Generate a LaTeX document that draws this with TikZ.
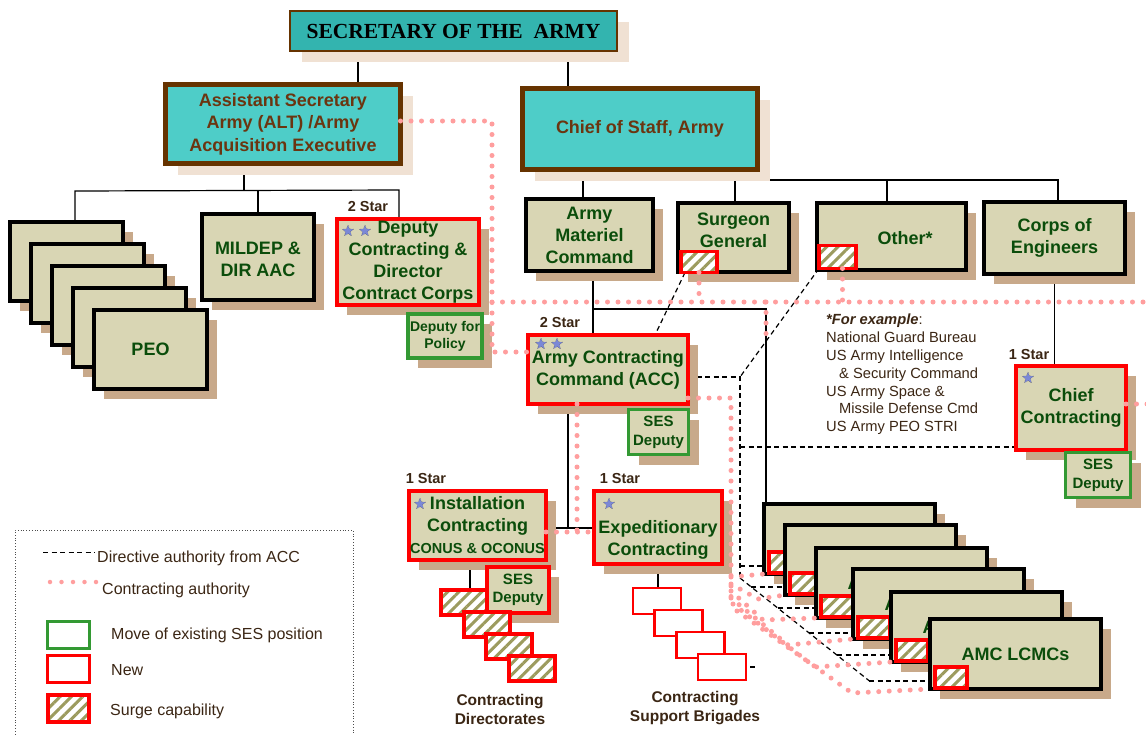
\documentclass[tikz,border=0pt]{standalone}
\usepackage{fontspec}
\setmainfont{Liberation Sans}
\newfontfamily\timesf{Liberation Serif}
\usetikzlibrary{shapes.geometric,shadows,patterns.meta,calc}
\definecolor{tealA}{HTML}{33B4AF}
\definecolor{tealB}{HTML}{4ECDC8}
\definecolor{brownB}{HTML}{663300}
\definecolor{brownT}{HTML}{6B3510}
\definecolor{beigeF}{HTML}{D9D6B4}
\definecolor{greenT}{HTML}{0B4D0B}
\definecolor{redB}{HTML}{FF0000}
\definecolor{greenB}{HTML}{339933}
\definecolor{shadowT}{HTML}{C8A98A}
\definecolor{shadowP}{HTML}{F0E1D3}
\definecolor{pinkD}{HTML}{FF9E9E}
\definecolor{oliveS}{HTML}{9C9B5E}
\definecolor{textB}{HTML}{3B2614}
\definecolor{starF}{HTML}{7B88D6}
\newcommand{\fsz}[2]{\fontsize{#1}{#2}\selectfont}
\pgfdeclarelayer{bg}
\pgfdeclarelayer{front}
\pgfsetlayers{bg,main,front}
\begin{document}
\begin{tikzpicture}[x=1pt,y=-1pt,
  conn/.style={draw=black,line width=1.2pt},
  dirl/.style={draw=black,line width=1.2pt,dash pattern=on 5pt off 3.5pt},
  ctr/.style={draw=pinkD,line width=5pt,line cap=round,dash pattern=on 0pt off 10.5pt},
  bx/.style={rectangle,inner sep=0pt,outer sep=0pt,align=center},
  tshad/.style={general shadow={fill=shadowT,shadow xshift=10pt,shadow yshift=-10pt}},
  pshad/.style={general shadow={fill=shadowP,shadow xshift=12pt,shadow yshift=-11pt}},
  secbox/.style={bx,pshad,fill=tealA,draw=brownB,line width=2pt},
  tealbox/.style={bx,pshad,fill=tealB,draw=brownB,line width=5pt,text=brownT,font=\bfseries\fsz{18}{22.5}},
  gbox/.style={bx,tshad,fill=beigeF,text=greenT,font=\bfseries\fsz{18}{22}},
  blk/.style={gbox,draw=black,line width=4pt},
  newb/.style={gbox,draw=redB,line width=4pt},
  sesb/.style={gbox,draw=greenB,line width=3.5pt,font=\bfseries\fsz{15}{19}},
  hatch/.style={bx,draw=redB,line width=3.5pt,preaction={fill=white},pattern={Lines[angle=45,distance=8pt,line width=3pt]},pattern color=oliveS},
  brig/.style={bx,draw=redB,line width=2.5pt,fill=white},
  starn/.style={star,star points=5,star point ratio=2.3,minimum size=12pt,inner sep=0pt,fill=starF,draw=black!70,line width=0.4pt,densely dotted},
  gtext/.style={bx,text=greenT,font=\bfseries\fsz{18}{22}},
  rank/.style={inner sep=0pt,text=textB,font=\bfseries\fsz{14.5}{17}},
  note/.style={text=textB,font=\fsz{16}{19},anchor=west,inner sep=0pt},
]
\useasboundingbox (0,0) rectangle (1146,734);

% ---------- top ----------
\node[secbox,minimum width=327pt,minimum height=40pt] (sec) at (453.5,31) {\timesf\bfseries\fsz{21.5}{24}SECRETARY OF THE\ \ ARMY};
\node[tealbox,minimum width=235pt,minimum height=79pt] (asa) at (283,124) {Assistant Secretary\\Army (ALT) /Army\\Acquisition Executive};
\node[tealbox,minimum width=235pt,minimum height=81pt] (cos) at (640,129) {Chief of Staff, Army};

% ---------- ASA side ----------
\node[blk,minimum width=113pt,minimum height=79pt] (peo1) at (66.5,261.5) {};
\node[blk,minimum width=113pt,minimum height=79pt] (peo2) at (87.5,283.5) {};
\node[blk,minimum width=113pt,minimum height=79pt] (peo3) at (108.5,305.5) {};
\node[blk,minimum width=113pt,minimum height=79pt] (peo4) at (129.5,327.5) {};
\node[blk,minimum width=113pt,minimum height=79pt] (peo5) at (150.5,349.5) {PEO};
\node[blk,minimum width=112pt,minimum height=86pt] (mil) at (258,257) {};
\node[gtext] at (258,259) {MILDEP \&\\DIR AAC};
\node[newb,minimum width=142pt,minimum height=86pt] (dep) at (408,262) {Deputy\\Contracting \&\\Director\\Contract Corps};
\node[starn] (ds1) at (348,231) {};
\node[starn] (ds2) at (365,231) {};
\node[rank] (dr) at (368,207) {2 Star};
\node[sesb,minimum width=74pt,minimum height=44pt,font=\bfseries\fsz{14}{17}] (pol) at (445,336) {Deputy for\\Policy};

% ---------- CoS side ----------
\node[blk,minimum width=127pt,minimum height=72pt] (amc) at (589.5,235) {Army\\Materiel\\Command};
\node[blk,minimum width=111pt,minimum height=69pt] (surg) at (733.5,237.5) {};
\node[gtext] at (733.5,230) {Surgeon\\General};
\node[hatch,minimum width=36pt,minimum height=21pt] (surgh) at (699,262) {};
\node[blk,minimum width=149pt,minimum height=67pt] (other) at (891.5,236.5) {};
\node[gtext] at (905,238) {Other*};
\node[hatch,minimum width=37pt,minimum height=23pt] (otherh) at (837.5,257) {};
\node[blk,minimum width=141pt,minimum height=72pt] (corps) at (1054.5,238) {Corps of\\Engineers};

\node[newb,minimum width=160pt,minimum height=69pt] (acc) at (608,369.5) {Army Contracting\\Command (ACC)};
\node[starn] (as1) at (541,344) {};
\node[starn] (as2) at (557,344) {};
\node[rank] (ar2) at (560,323) {2 Star};
\node[sesb,minimum width=60pt,minimum height=45pt] (sesacc) at (658.5,432) {SES\\Deputy};

\node[newb,minimum width=110pt,minimum height=84pt] (chief) at (1071,408) {Chief\\Contracting};
\node[starn] (cs1) at (1028,378) {};
\node[rank] (cr1) at (1029,355) {1 Star};
\node[sesb,minimum width=65pt,minimum height=45pt] (seschief) at (1098,475) {SES\\Deputy};

\node[newb,minimum width=137pt,minimum height=69pt] (inst) at (477.5,525.5) {Installation\\Contracting\\{\fsz{14.5}{22}CONUS \& OCONUS}};
\node[starn] (is1) at (420,504) {};
\node[rank] (ir1) at (426,479) {1 Star};
\node[newb,minimum width=62pt,minimum height=46pt,font=\bfseries\fsz{15}{17.5}] (sesinst) at (518,590) {SES\\Deputy};

\node[newb,minimum width=128pt,minimum height=73pt] (exp) at (658,527.5) {};
\node[gtext] at (658,540) {Expeditionary\\Contracting};
\node[starn] (es1) at (609,504) {};
\node[rank] (er1) at (620,479) {1 Star};

% Contracting directorates
\node[hatch,line width=4pt,minimum width=46pt,minimum height=25pt] (dir1) at (464,602.5) {};
\node[hatch,line width=4pt,minimum width=46pt,minimum height=25pt] (dir2) at (486.5,624.5) {};
\node[hatch,line width=4pt,minimum width=46pt,minimum height=25pt] (dir3) at (509,646.5) {};
\node[hatch,line width=4pt,minimum width=46pt,minimum height=25pt] (dir4) at (531.5,668.5) {};
\node[bx,text=textB,font=\bfseries\fsz{15.5}{19}] (dirl) at (500,709) {Contracting\\Directorates};

% Contracting support brigades
\node[brig,minimum width=48pt,minimum height=26pt] (brig1) at (657,601) {};
\node[brig,minimum width=48pt,minimum height=26pt] (brig2) at (678.7,623) {};
\node[brig,minimum width=48pt,minimum height=26pt] (brig3) at (700.4,645) {};
\node[brig,minimum width=48pt,minimum height=26pt] (brig4) at (722.1,667) {};
\node[bx,text=textB,font=\bfseries\fsz{15.5}{19}] (brigl) at (695,708) {Contracting\\Support Brigades};

% AMC LCMCs
\foreach \i/\l/\t in {1/762/502,2/783/523,3/814/546,4/851/567,5/889/590,6/928/617}{
  \node[blk,minimum width=171pt,minimum height=70pt] (lc\i) at (\l+87.5,\t+37) {AMC LCMCs};
  \node[hatch,minimum width=32pt,minimum height=21pt] (lch\i) at (\l+23,\t+60.5) {};
}

% example text
\node[anchor=north west,inner sep=0pt,align=left,text=textB,font=\fsz{14.7}{17.8}] (ex) at (826,314)
 {\textbf{\textit{*For example}}:\\National Guard Bureau\\US Army Intelligence\\\hspace*{13pt}\& Security Command\\US Army Space \&\\\hspace*{13pt}Missile Defense Cmd\\US Army PEO STRI};

% ---------- solid and dashed connectors (behind) ----------
\begin{pgfonlayer}{bg}
\fill[white] (0,0) rectangle (1146,734);
\coordinate (xa) at (358,0);
\coordinate (xb) at (568,0);
\coordinate (abus) at (244,191);
\coordinate (al) at (75,191);
\coordinate (am) at (258,191);
\coordinate (ar) at (399,190);
\coordinate (cbus) at (648,180);
\coordinate (cl) at (583,180);
\coordinate (c2) at (735,180);
\coordinate (c3) at (887,180);
\coordinate (cr) at (1058,180);
\coordinate (m1) at (593,309);
\coordinate (m2) at (766,309);
\coordinate (k1) at (568,528);
\coordinate (i1) at (470,0);
\draw[conn] (sec.south -| xa) -- (asa.north -| xa);
\draw[conn] (sec.south -| xb) -- (cos.north -| xb);
\draw[conn] (asa.south -| abus) -- (abus);
\draw[conn] (peo1.north -| al) -- (al) -- (ar) -- (dep.north -| ar);
\draw[conn] (am) -- (mil.north -| am);
\draw[conn] (cos.south -| cbus) -- (cbus);
\draw[conn] (amc.north -| cl) -- (cl) -- (cr) -- (corps.north -| cr);
\draw[conn] (c2) -- (surg.north -| c2);
\draw[conn] (c3) -- (other.north -| c3);
\draw[conn] (amc.south -| m1) -- (acc.north -| m1);
\draw[conn] (m1) -- (m2) -- (lc1.north -| m2);
\draw[conn] (acc.south -| k1) -- (k1);
\draw[conn] (inst.east |- k1) -- (exp.west |- k1);
\draw[conn] (inst.south -| i1) -- (dir1.north -| i1);
\draw[conn] (exp.south) -- (exp.south |- brig1.north);
\draw[conn] (corps.south) -- (corps.south |- chief.north);

% directive authority
\coordinate (dj) at (740,377);
\coordinate (dk) at (740,578);
\coordinate (dc) at (740,447);
\coordinate (d1) at (740,566);
\coordinate (dend) at (872,683);
\coordinate (d2) at (751,587);
\coordinate (d3) at (778,608);
\coordinate (d4) at (809,633);
\coordinate (d5) at (837,655);
\coordinate (d6) at (869,681);
\draw[dirl] ([xshift=-14pt]surgh.south) -- ([xshift=47pt]acc.north);
\draw[dirl] (otherh.south west) -- (dj);
\draw[dirl] (acc.east |- dj) -- (dj) -- (dk);
\draw[dirl] (dc) -- (chief.west |- dc);
\draw[dirl] (d1) -- (lc1.west |- d1);
\draw[dirl] (dk) -- (dend);
\draw[dirl] (d2) -- (lc2.west |- d2);
\draw[dirl] (d3) -- (lc3.west |- d3);
\draw[dirl] (d4) -- (lc4.west |- d4);
\draw[dirl] (d5) -- (lc5.west |- d5);
\draw[dirl] (d6) -- (lc6.west |- d6);
\draw[dirl] ([xshift=4pt]brig4.east) -- ([xshift=9pt]brig4.east);
\end{pgfonlayer}

% ---------- contracting authority (dotted, front) ----------
\begin{pgfonlayer}{front}
\coordinate (p1) at (492,121);
\coordinate (p2) at (492,352);
\coordinate (p3) at (492,302);
\coordinate (p4) at (1150,302);
\coordinate (p5) at (766,342);
\coordinate (q1) at (731,398);
\coordinate (q2) at (731,577);
\coordinate (q3) at (731,605);
\coordinate (r1) at (577,532);
\coordinate (p8) at (1150,404);
\draw[ctr] ([yshift=3pt]asa.east) -- (p1) -- (p2) -- (acc.west |- p2);
\draw[ctr] (p3) -- (p4);
\draw[ctr] (surgh.south) -- (surgh.south |- p3);
\draw[ctr] ([xshift=5pt]otherh.south) -- ([xshift=5pt]otherh.south |- p3);
\draw[ctr] (p5 |- p3) -- (p5);
\draw[ctr] (acc.east |- q1) -- (q1) -- (q3);
\draw[ctr] (q2) -- (lc1.south west);
\draw[ctr] (731,584) -- (758,599) -- (lc2.south west);
\draw[ctr] (731,591) -- (763,620) -- (lc3.south west);
\draw[ctr] (731,598) -- (788,645) -- (lc4.south west);
\draw[ctr] (733,604) -- (815,667) -- (lc5.south west);
\draw[ctr] (737,611) -- (852,693) -- (lc6.south west);
\draw[ctr] (acc.south -| r1) -- (r1);
\draw[ctr] (inst.east |- r1) -- (exp.west |- r1);
\draw[ctr] (chief.east |- p8) -- (p8);
\end{pgfonlayer}

% ---------- legend ----------
\draw[draw=black!70,line width=0.8pt,dotted] (15,740) -- (15,530) -- (353,530) -- (353,740);
\coordinate (la) at (43,552);
\coordinate (lb) at (95,552);
\draw[dirl,line width=1pt] (la) -- (lb);
\node[note] (lt1) at (97,558) {Directive authority from ACC};
\coordinate (lc) at (50,582);
\coordinate (ld) at (97,582);
\draw[ctr,line width=4.5pt,dash pattern=on 0pt off 11.5pt] (lc) -- (ld);
\node[note] (lt2) at (102,590) {Contracting authority};
\node[bx,draw=greenB,line width=3pt,fill=white,minimum width=42pt,minimum height=27pt] (lg1) at (68.5,634.5) {};
\node[note] (lt3) at (111,635) {Move of existing SES position};
\node[bx,draw=redB,line width=2.5pt,fill=white,minimum width=42pt,minimum height=27pt] (lg2) at (68.5,669) {};
\node[note] (lt4) at (111,670) {New};
\node[hatch,line width=4pt,minimum width=41pt,minimum height=27pt] (lg3) at (68.5,708.5) {};
\node[note] (lt5) at (110,711) {Surge capability};
\end{tikzpicture}
\end{document}
